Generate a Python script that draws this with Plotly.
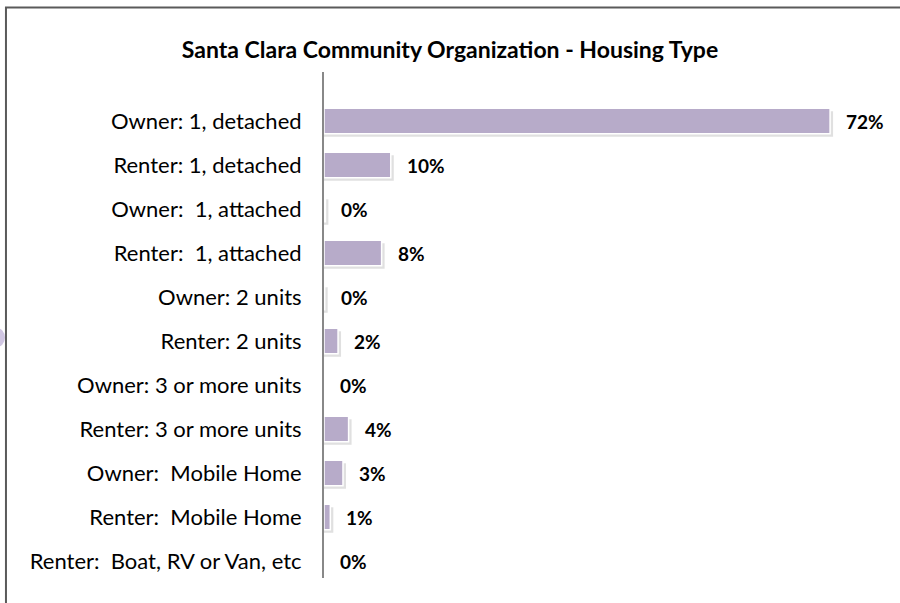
import plotly.graph_objects as go

categories = [
    "Owner: 1, detached",
    "Renter: 1, detached",
    "Owner:  1, attached",
    "Renter:  1, attached",
    "Owner: 2 units",
    "Renter: 2 units",
    "Owner: 3 or more units",
    "Renter: 3 or more units",
    "Owner:  Mobile Home",
    "Renter:  Mobile Home",
    "Renter:  Boat, RV or Van, etc",
]
values = [72.0, 9.5, 0.2, 8.2, 0.1, 2.0, 0.0, 3.5, 2.7, 0.9, 0.0]
value_labels = ["72%", "10%", "0%", "8%", "0%", "2%", "0%", "4%", "3%", "1%", "0%"]

title_text = "Santa Clara Community Organization - Housing Type"
FONT = "Lato, 'Open Sans', sans-serif"
BAR = "#B7ABC9"

ypos = list(range(len(categories)))
BW = 0.58
PX_Y = 1 / 44.0     # data units per pixel on y
PX_X = 79.1 / 556.0  # data units per pixel on x

fig = go.Figure()
# soft drop shadow behind bars
shadow_x = [v + 3 * PX_X if v > 0.05 else 0 for v in values]
fig.add_trace(go.Bar(
    x=shadow_x, y=ypos, orientation="h",
    marker=dict(color="rgba(0,0,0,0.12)", line=dict(width=0)),
    width=BW, offset=-BW / 2 + 3 * PX_Y, hoverinfo="skip",
))
fig.add_trace(go.Bar(
    x=values, y=ypos, orientation="h",
    marker=dict(color=BAR, line=dict(color="#FFFFFF", width=1.5)),
    width=BW, offset=-BW / 2, hoverinfo="skip",
))

for yv, xv, lab in zip(ypos, values, value_labels):
    fig.add_annotation(
        x=xv, y=yv, text="<b>" + lab + "</b>", showarrow=False,
        xanchor="left", yanchor="middle", xshift=14,
        font=dict(family=FONT, size=19, color="#000000"),
    )

fig.update_layout(
    width=900, height=603,
    margin=dict(l=324, r=20, t=72, b=25),
    paper_bgcolor="#FFFFFF", plot_bgcolor="rgba(0,0,0,0)",
    showlegend=False, barmode="overlay",
    title=dict(text="<b>" + title_text + "</b>", x=0.5, xanchor="center",
               y=0.917, yanchor="middle",
               font=dict(family=FONT, size=23, color="#000000")),
    xaxis=dict(range=[0, 79.1], visible=False, showgrid=False, zeroline=False),
    yaxis=dict(
        range=[10.386, -1.114], tickvals=ypos, ticktext=categories,
        showgrid=False, zeroline=False, showline=True, linecolor="#888888",
        linewidth=2, ticks="", ticklabelstandoff=16,
        tickfont=dict(family=FONT, size=22, color="#000000"),
    ),
    shapes=[
        dict(type="rect", xref="paper", yref="paper",
             x0=-0.572, x1=1.3, y0=-0.3, y1=1.1275,
             line=dict(color="#5A5A5A", width=2), fillcolor="rgba(0,0,0,0)",
             layer="below"),
        dict(type="circle", xref="paper", yref="paper",
             x0=(-12 - 324) / 556, x1=(5 - 324) / 556,
             y0=(578 - 347) / 506, y1=(578 - 328) / 506,
             line=dict(width=0), fillcolor="#D0C6E2", layer="below"),
    ],
)

fig.write_html("out.html", config={"displayModeBar": False},
               post_script="document.body.style.margin='0';")
